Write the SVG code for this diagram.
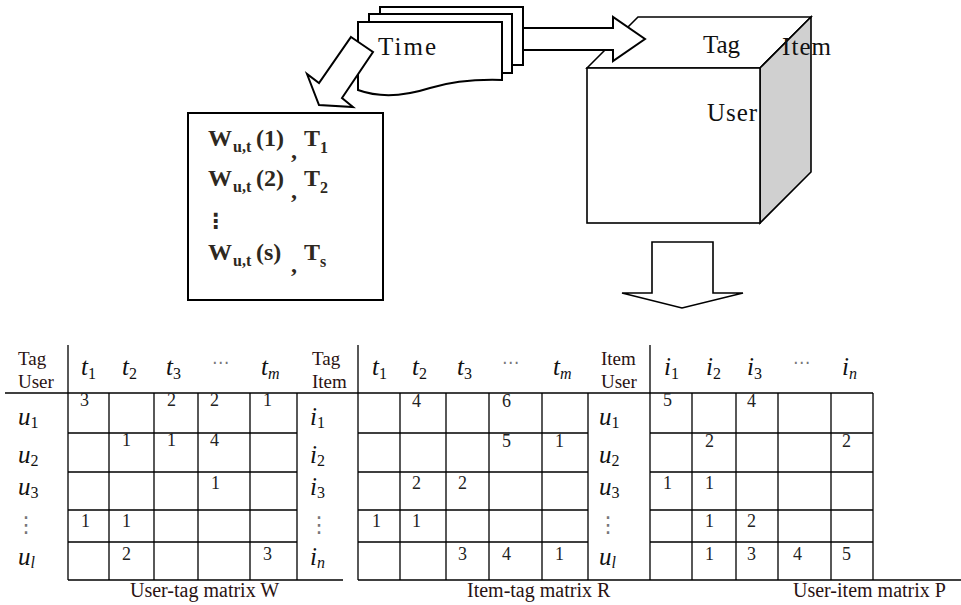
<svg xmlns="http://www.w3.org/2000/svg" width="961" height="605" viewBox="0 0 961 605">
<style>
.sh{stroke:#000;stroke-width:2;fill:#fff;stroke-linejoin:miter}
.ln{stroke:#000;stroke-width:1.3;fill:none}
.big{font-family:"Liberation Serif","Times New Roman",serif;font-size:25px;fill:#111}
.fm{font-family:"Liberation Serif","Times New Roman",serif;font-size:24px;font-weight:bold;fill:#2e2820}
.fs{font-size:16px}
.tb{font-family:"Liberation Serif","Times New Roman",serif;font-size:19px;fill:#2a1212}
.mi{font-family:"Liberation Serif","Times New Roman",serif;font-size:25px;font-style:italic;fill:#111}
.sb{font-size:16px;font-style:normal}
.si{font-size:16px;font-style:italic}
.dt{font-family:"DejaVu Sans",sans-serif;font-size:17px;fill:#777}
.dv{font-family:"DejaVu Sans",sans-serif;font-size:22px;fill:#777}
.num{font-family:"Liberation Serif","Times New Roman",serif;font-size:18px;fill:#222}
.cap{font-family:"Liberation Serif","Times New Roman",serif;font-size:20px;fill:#2a1212}
</style>

<g id="cube">
  <polygon class="sh" points="587,68 638,17 811,17 760,68" style="stroke-width:1.6"/>
  <polygon class="sh" points="760,68 811,17 811,172 760,223" style="fill:#d0d0d0;stroke-width:1.6"/>
  <rect class="sh" x="587" y="68" width="173" height="155" style="stroke-width:1.6"/>
  <text class="big" x="703" y="53" textLength="37">Tag</text>
  <text class="big" x="782" y="55" textLength="49">Item</text>
  <text class="big" x="707" y="121" textLength="50">User</text>
</g>

<g id="time">
  <rect class="sh" x="380" y="7" width="143" height="58"/>
  <rect class="sh" x="369" y="14" width="143" height="59"/>
  <path class="sh" d="M358,22 H502 V80 C470,79 450,82 430,88 C405,96 380,98 358,90 Z"/>
  <text class="big" x="378" y="55" textLength="58">Time</text>
</g>

<g id="wbox">
  <rect class="sh" x="188" y="113" width="195" height="187"/>
  <text class="fm" x="208" y="146">W</text><text class="fm fs" x="233" y="152">u,t</text><text class="fm" x="256" y="146">(1)</text><text class="fm" x="291" y="158">,</text><text class="fm" x="304" y="146">T</text><text class="fm fs" x="320" y="153">1</text>
  <text class="fm" x="208" y="186">W</text><text class="fm fs" x="233" y="192">u,t</text><text class="fm" x="256" y="186">(2)</text><text class="fm" x="291" y="198">,</text><text class="fm" x="304" y="186">T</text><text class="fm fs" x="320" y="193">2</text>
  <text class="fm" x="205" y="228" style="font-family:'DejaVu Sans',sans-serif;font-size:21px">⋮</text>
  <text class="fm" x="208" y="260">W</text><text class="fm fs" x="233" y="266">u,t</text><text class="fm" x="256" y="260">(s)</text><text class="fm" x="291" y="272">,</text><text class="fm" x="304" y="260">T</text><text class="fm fs" x="320" y="267">s</text>
</g>

<g id="connectors">
  <polygon class="sh" points="351,37 373,52 342,98 353,107 319,105 307,74 319,83"/>
  <polygon class="sh" points="523,28 613,28 613,17 645,39 613,61 613,50 523,50"/>
  <polygon class="sh" points="652,242 713,242 713,293 743,293 682,308 622,293 652,293" style="stroke-width:1.6"/>
</g>

<g id="table-lines">
  <line class="ln" x1="5" y1="393" x2="873" y2="393"/>
  <line class="ln" x1="68" y1="580" x2="343" y2="580"/>
  <line class="ln" x1="358" y1="580" x2="961" y2="580"/>
  <path class="ln" d="M68,345V580 M109,393V580 M154,393V580 M198,393V580 M250,393V580 M297,393V580 M68,433H297 M68,472H297 M68,510H297 M68,542H297"/>
  <path class="ln" d="M358,345V580 M400,393V580 M446,393V580 M489,393V580 M542,393V580 M588,393V580 M358,433H588 M358,472H588 M358,510H588 M358,542H588"/>
  <path class="ln" d="M650,345V580 M692,393V580 M736,393V580 M778,393V580 M831,393V580 M873,393V580 M650,433H873 M650,472H873 M650,510H873 M650,542H873"/>
</g>

<g id="user-tag-matrix">
  <text class="tb" x="18" y="365">Tag</text>
  <text class="tb" x="18" y="388">User</text>
  <text class="mi" x="81" y="375">t<tspan class="sb" dy="4">1</tspan></text>
  <text class="mi" x="122" y="375">t<tspan class="sb" dy="4">2</tspan></text>
  <text class="mi" x="166" y="375">t<tspan class="sb" dy="4">3</tspan></text>
  <text class="dt" x="212" y="368">⋯</text>
  <text class="mi" x="261" y="375">t<tspan class="si" dy="4">m</tspan></text>
  <text class="mi" x="18" y="425">u<tspan class="sb" dy="3">1</tspan></text>
  <text class="mi" x="18" y="463">u<tspan class="sb" dy="3">2</tspan></text>
  <text class="mi" x="18" y="495">u<tspan class="sb" dy="3">3</tspan></text>
  <text class="dv" x="15" y="532">⋮</text>
  <text class="mi" x="18" y="565">u<tspan class="si" dy="3">l</tspan></text>
  <g class="num">
    <text x="80" y="406">3</text><text x="167" y="406">2</text><text x="210" y="406">2</text><text x="263" y="406">1</text>
    <text x="122" y="446">1</text><text x="167" y="446">1</text><text x="210" y="446">4</text>
    <text x="211" y="489">1</text>
    <text x="81" y="527">1</text><text x="122" y="527">1</text>
    <text x="122" y="560">2</text><text x="263" y="560">3</text>
  </g>
  <text class="cap" x="130" y="597">User-tag matrix W</text>
</g>

<g id="item-tag-matrix">
  <text class="tb" x="312" y="365">Tag</text>
  <text class="tb" x="312" y="388">Item</text>
  <text class="mi" x="372" y="375">t<tspan class="sb" dy="4">1</tspan></text>
  <text class="mi" x="412" y="375">t<tspan class="sb" dy="4">2</tspan></text>
  <text class="mi" x="457" y="375">t<tspan class="sb" dy="4">3</tspan></text>
  <text class="dt" x="502" y="368">⋯</text>
  <text class="mi" x="553" y="375">t<tspan class="si" dy="4">m</tspan></text>
  <text class="mi" x="310" y="425">i<tspan class="sb" dy="3">1</tspan></text>
  <text class="mi" x="310" y="463">i<tspan class="sb" dy="3">2</tspan></text>
  <text class="mi" x="310" y="495">i<tspan class="sb" dy="3">3</tspan></text>
  <text class="dv" x="308" y="532">⋮</text>
  <text class="mi" x="310" y="565">i<tspan class="si" dy="3">n</tspan></text>
  <g class="num">
    <text x="412" y="407">4</text><text x="502" y="407">6</text>
    <text x="502" y="447">5</text><text x="555" y="447">1</text>
    <text x="412" y="489">2</text><text x="458" y="489">2</text>
    <text x="372" y="527">1</text><text x="412" y="527">1</text>
    <text x="458" y="560">3</text><text x="502" y="560">4</text><text x="555" y="560">1</text>
  </g>
  <text class="cap" x="467" y="597">Item-tag matrix R</text>
</g>

<g id="user-item-matrix">
  <text class="tb" x="601" y="365">Item</text>
  <text class="tb" x="601" y="388">User</text>
  <text class="mi" x="664" y="375">i<tspan class="sb" dy="4">1</tspan></text>
  <text class="mi" x="706" y="375">i<tspan class="sb" dy="4">2</tspan></text>
  <text class="mi" x="747" y="375">i<tspan class="sb" dy="4">3</tspan></text>
  <text class="dt" x="793" y="368">⋯</text>
  <text class="mi" x="842" y="375">i<tspan class="si" dy="4">n</tspan></text>
  <text class="mi" x="599" y="425">u<tspan class="sb" dy="3">1</tspan></text>
  <text class="mi" x="599" y="463">u<tspan class="sb" dy="3">2</tspan></text>
  <text class="mi" x="599" y="495">u<tspan class="sb" dy="3">3</tspan></text>
  <text class="dv" x="597" y="532">⋮</text>
  <text class="mi" x="599" y="565">u<tspan class="si" dy="3">l</tspan></text>
  <g class="num">
    <text x="663" y="406">5</text><text x="747" y="407">4</text>
    <text x="705" y="447">2</text><text x="842" y="447">2</text>
    <text x="663" y="489">1</text><text x="705" y="489">1</text>
    <text x="705" y="527">1</text><text x="747" y="527">2</text>
    <text x="705" y="560">1</text><text x="747" y="560">3</text><text x="793" y="560">4</text><text x="842" y="560">5</text>
  </g>
  <text class="cap" x="793" y="597">User-item matrix P</text>
</g>
</svg>
